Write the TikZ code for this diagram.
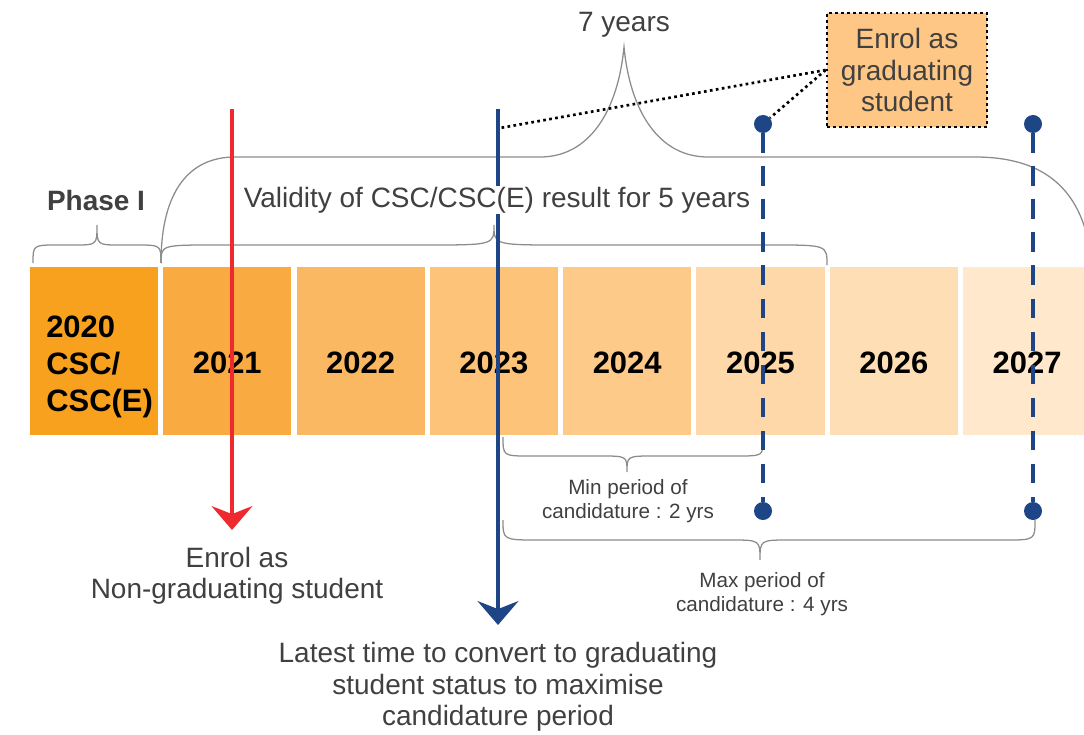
\documentclass[tikz,border=0pt]{standalone}
\usepackage{fontspec}
\setmainfont{Liberation Sans}
\usetikzlibrary{arrows.meta}

\definecolor{yrA}{HTML}{F7A11E}
\definecolor{yrB}{HTML}{F9AA40}
\definecolor{yrC}{HTML}{FBB862}
\definecolor{yrD}{HTML}{FCC379}
\definecolor{yrE}{HTML}{FDCA8A}
\definecolor{yrF}{HTML}{FED8A8}
\definecolor{yrG}{HTML}{FEDFB5}
\definecolor{yrH}{HTML}{FFE8CC}
\definecolor{navy}{HTML}{1E4586}
\definecolor{redline}{HTML}{EE2A2E}
\definecolor{bracegray}{HTML}{8C8C8C}
\definecolor{txtgray}{HTML}{404040}
\definecolor{enrolfill}{HTML}{FFC785}

\begin{document}
\begin{tikzpicture}[x=0.025cm, y=-0.025cm,
  yearbox/.style={minimum width=3.2cm, minimum height=4.2cm, inner sep=0pt},
  yeartext/.style={font=\fontsize{22}{26.3}\selectfont\bfseries, text=black},
  bigtext/.style={font=\fontsize{19.9}{22.4}\selectfont, text=txtgray, align=center},
  smalltext/.style={font=\fontsize{14.7}{16.7}\selectfont, text=txtgray, align=center},
  brace/.style={draw=bracegray, line width=0.9pt},
  enddot/.style={circle, fill=navy, inner sep=0pt, minimum size=0.45cm},
  limit/.style={navy, line width=3.4pt, dash pattern=on 14pt off 9.5pt},
  pointer/.style={line width=1.9pt, dash pattern=on 1.9pt off 2.4pt},
  timeline/.style={line width=3.4pt, -{Stealth[length=17pt, width=29pt, inset=5.7pt]}}
]

  % The frame
  \useasboundingbox (0,0) rectangle (1084,735);
  \clip (0,0) rectangle (1084,735);

  % Braces above the years
  % Phase I
  \draw[brace] (33,263) .. controls (33,245) .. (58,245) -- (74,245)
  .. controls (97,245) .. (97,225) .. controls (97,245) .. (120,245)
  -- (136,245) .. controls (161,245) .. (161,263);

  % 5 years
  \draw[brace] (161,263) .. controls (161,245) .. (216,245) -- (426,245)
  .. controls (494,245) .. (494,225) .. controls (494,245) .. (562,245)
  -- (772,245) .. controls (827,245) .. (827,265);

  % 7 years
  \draw[brace] (161,263) .. controls (161,190) and (190,157) .. (235,157)
  -- (540,157) .. controls (590,157) and (618,110) .. (624,47)
  .. controls (630,110) and (658,157) .. (708,157)
  -- (975,157) .. controls (1055,157) and (1085,200) .. (1092,263);

  % Year boxes
  \def \xA {94}
  \def \pitch {133.3}
  \def \yBox {351}
  \def \yYear {363}
  \node[yearbox, fill=yrA] (b2020) at (\xA, \yBox) {};
  \node[yearbox, fill=yrB] (b2021) at (\xA +\pitch, \yBox) {};
  \node[yearbox, fill=yrC] (b2022) at (\xA +2*\pitch, \yBox) {};
  \node[yearbox, fill=yrD] (b2023) at (\xA +3*\pitch, \yBox) {};
  \node[yearbox, fill=yrE] (b2024) at (\xA +4*\pitch, \yBox) {};
  \node[yearbox, fill=yrF] (b2025) at (\xA +5*\pitch, \yBox) {};
  \node[yearbox, fill=yrG] (b2026) at (\xA +6*\pitch, \yBox) {};
  \node[yearbox, fill=yrH] (b2027) at (\xA +7*\pitch, \yBox) {};

  \node[yeartext, align=left, anchor=west, inner sep=0pt] (t2020) at (46, \yYear +4) {2020\\CSC/\\CSC(E)};
  \node[yeartext] (t2021) at (\xA +\pitch, \yYear) {2021};
  \node[yeartext] (t2022) at (\xA +2*\pitch, \yYear) {2022};
  \node[yeartext] (t2023) at (\xA +3*\pitch, \yYear) {2023};
  \node[yeartext] (t2024) at (\xA +4*\pitch, \yYear) {2024};
  \node[yeartext] (t2025) at (\xA +5*\pitch, \yYear) {2025};
  \node[yeartext] (t2026) at (\xA +6*\pitch, \yYear) {2026};
  \node[yeartext] (t2027) at (\xA +7*\pitch, \yYear) {2027};

  % Braces below the years
  % Min period
  \draw[brace] (503,437) .. controls (503,456) .. (530,456) -- (600,456)
  .. controls (627,456) .. (627,472) .. controls (627,456) .. (654,456)
  -- (736,456) .. controls (763,456) .. (763,440);

  % Max period
  \draw[brace] (503,520) .. controls (503,540) .. (538,540) -- (730,540)
  .. controls (760,540) .. (760,560) .. controls (760,540) .. (790,540)
  -- (1005,540) .. controls (1035,540) .. (1035,520);

  % Labels
  \node[bigtext] (seven) at (624,25) {7 years};
  \node[bigtext, font=\fontsize{19.9}{22.4}\selectfont\bfseries] (phase) at (96,200) {Phase I};
  \node[smalltext] (minlabel) at (628,501) {Min period of\\candidature : 2 yrs};
  \node[smalltext] (maxlabel) at (762,594) {Max period of\\candidature : 4 yrs};
  \node[bigtext] (nongrad) at (237,576) {Enrol as\\Non-graduating student};
  \node[bigtext] (latest) at (498,687)
  {Latest time to convert to graduating\\student status to maximise\\candidature period};

  % Enrol as graduating student
  \node[bigtext, draw=black, pointer, fill=enrolfill,
  minimum width=4cm, minimum height=2.85cm] (enrol) at (907,70)
  {Enrol as\\graduating\\student};

  % Limits of candidature
  \node[enddot] (minTop) at (763,124) {};
  \node[enddot] (minBot) at (763,511) {};
  \node[enddot] (maxTop) at (1033,124) {};
  \node[enddot] (maxBot) at (1033,511) {};
  \draw[limit] (minTop) -- (minBot);
  \draw[limit] (maxTop) -- (maxBot);

  % Timelines
  \coordinate (redTop) at (232,109);
  \coordinate (redTip) at (232,530);
  \coordinate (blueTop) at (498,109);
  \coordinate (blueTip) at (498,625);
  \coordinate (blueMark) at (500,128);
  \draw[timeline, redline] (redTop) -- (redTip);
  \draw[timeline, navy] (blueTop) -- (blueTip);

  % Pointers
  \draw[pointer] (enrol.west) -- (blueMark);
  \draw[pointer] (enrol.west) -- (minTop);

  \node[bigtext, fill=white, inner sep=0.5pt] (validity) at (497,200)
  {Validity of CSC/CSC(E) result for 5 years};

\end{tikzpicture}
\end{document}
